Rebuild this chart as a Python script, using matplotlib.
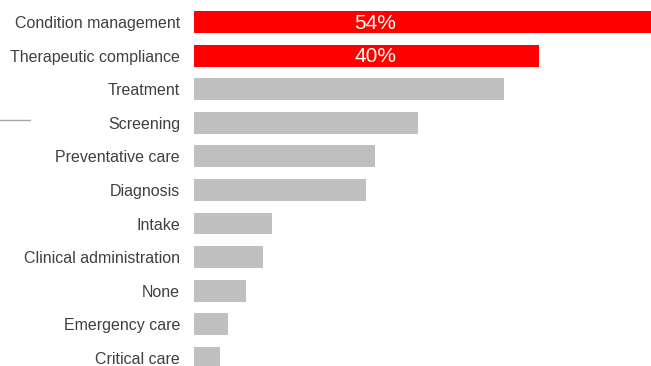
import matplotlib
matplotlib.use('Agg')
import matplotlib.pyplot as plt
from matplotlib.lines import Line2D

# data
categories = ['Condition management', 'Therapeutic compliance', 'Treatment', 'Screening',
              'Preventative care', 'Diagnosis', 'Intake', 'Clinical administration',
              'None', 'Emergency care', 'Critical care']
values = [54, 40, 36, 26, 21, 20, 9, 8, 6, 4, 3]
highlight = [True, True, False, False, False, False, False, False, False, False, False]

RED = '#FF0000'
GREY = '#C0C0C0'
TEXT = '#404040'

plt.rcParams['font.family'] = ['Liberation Sans', 'DejaVu Sans']

fig = plt.figure(figsize=(6.51, 3.66), dpi=100)
ax = fig.add_axes([194 / 651, 0, 1 - 194 / 651, 1])

ypos = list(range(len(categories)))
colors = [RED if h else GREY for h in highlight]
ax.barh(ypos, values, height=0.65, color=colors)

# value labels on the highlighted bars
label_x = 21
for y, v, h in zip(ypos, values, highlight):
    if h:
        ax.text(label_x, y + 0.03, f'{v}%', color='white', fontsize=15, ha='center', va='center')

ax.set_xlim(0, 53)
ax.set_ylim(10.24, -0.655)
ax.set_yticks(ypos)
ax.set_yticklabels(categories, fontsize=11.5, color=TEXT)
ax.tick_params(axis='y', length=0, pad=10)
ax.set_xticks([])
for sp in ax.spines.values():
    sp.set_visible(False)

# small stray rule at the left edge
fig.add_artist(Line2D([0, 30 / 651], [1 - 120 / 366, 1 - 120 / 366],
                      color='#A6A6A6', lw=1, transform=fig.transFigure))

fig.savefig('out.png', dpi=100)
